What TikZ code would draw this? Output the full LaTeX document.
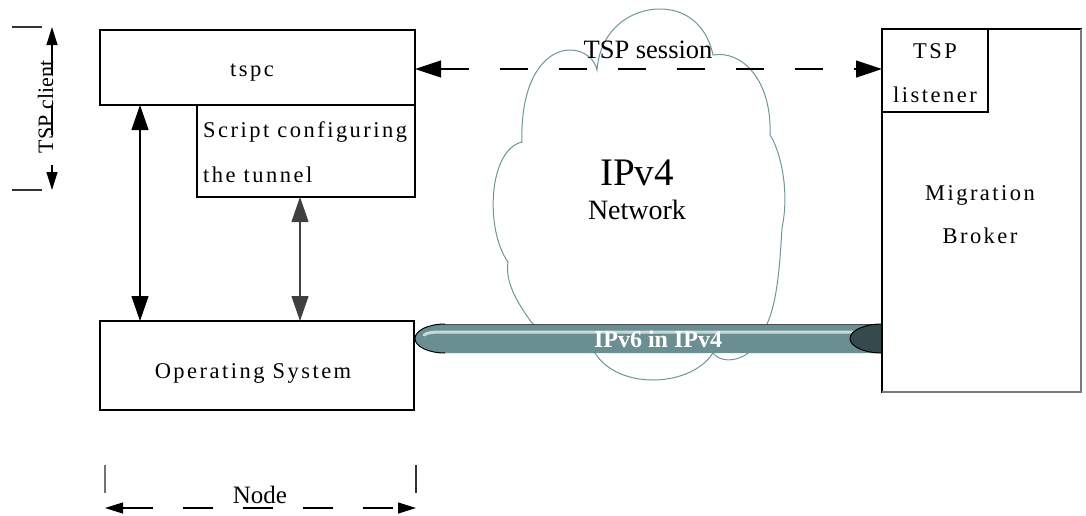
\documentclass[tikz,border=0pt]{standalone}
\usepackage{fontspec}
\setmainfont{Liberation Serif}
\usetikzlibrary{arrows.meta,calc}

\definecolor{cloudline}{HTML}{6E9599}
\definecolor{tubefill}{HTML}{6A8F92}
\definecolor{tubehi}{HTML}{C8D9D9}
\definecolor{tubeend}{HTML}{364A4D}
\definecolor{edgegray}{HTML}{7A7A7A}

\newcommand\boxfont{\fontsize{22.5}{27}\selectfont\addfontfeatures{LetterSpace=11}}
\newcommand\labelfont{\fontsize{25}{30}\selectfont}

\begin{document}
\begin{tikzpicture}[x=1pt,y=-1pt,
  box/.style={draw=black, line width=1.2pt, fill=white, inner sep=0pt, outer sep=0pt},
  txt/.style={inner sep=0pt, font=\boxfont},
  lbl/.style={inner sep=0pt, font=\labelfont},
  duplex/.style={{Triangle[length=25pt,width=17pt]}-{Triangle[length=25pt,width=17pt]}, line width=1.2pt},
  dimline/.style={{Triangle[length=18pt,width=11pt]}-{Triangle[length=18pt,width=11pt]}, line width=1.2pt, dash pattern=on 30pt off 30pt},
  sessline/.style={{Triangle[length=26pt,width=17pt]}-{Triangle[length=26pt,width=17pt]}, line width=1.2pt, dash pattern=on 28pt off 31pt},
  extline/.style={line width=1.2pt, draw=black!80},
]
\useasboundingbox (0,0) rectangle (1086,515);

% ---------- IPv4 cloud ----------
\draw[cloudline, line width=1pt]
  (522,142) .. controls (520,80) and (545,50) .. (570,50)
            .. controls (585,50) and (595,60) .. (597,70)
            .. controls (600,30) and (630,9) .. (660,9)
            .. controls (690,9) and (708,30) .. (713,55)
            .. controls (742,50) and (772,80) .. (770,135)
            .. controls (780,150) and (790,190) .. (782,228)
            .. controls (780,260) and (778,300) .. (767,324)
            .. controls (762,335) and (755,348) .. (747,354)
            .. controls (735,362) and (720,362) .. (713,353)
            .. controls (690,388) and (618,390) .. (595,353)
            .. controls (570,345) and (545,335) .. (532,323)
            .. controls (515,300) and (505,280) .. (508,262)
            .. controls (485,230) and (488,150) .. cycle;
\node[inner sep=0pt, font=\fontsize{39}{45}\selectfont, anchor=base] (ipv4) at (637,185) {IPv4};
\node[inner sep=0pt, font=\fontsize{28}{34}\selectfont, anchor=base] (network) at (637,219) {Network};

% ---------- IPv6-in-IPv4 tunnel ----------
\fill[tubefill] (445,324) -- (882,324) -- (882,353) -- (445,353)
  .. controls (428.4,353) and (415,346.5) .. (415,338.5)
  .. controls (415,330.5) and (428.4,324) .. cycle;
\draw[black!70, line width=1pt] (445,324) -- (880,324);
\draw[black, line width=1pt] (445,353)
  .. controls (428.4,353) and (415,346.5) .. (415,338.5)
  .. controls (415,330.5) and (428.4,324) .. (445,324);
\draw[tubehi, line width=3pt, line cap=round] (424,335) .. controls (428,332) and (435,332) .. (445,332) -- (862,332);
\draw[black, fill=tubeend, line width=1pt] (882,338.5) ellipse [x radius=32pt, y radius=14.5pt];
\node[inner sep=0pt, text=white, font=\fontsize{24}{28}\selectfont\bfseries, anchor=base] (tunnel) at (658,347) {IPv6 in IPv4};

% ---------- client side ----------
\node[box, minimum width=315pt, minimum height=75pt] (tspc) at (257.5,67.5) {};
\node[txt, anchor=base] (tspctext) at (252,76) {tspc};
\node[box, minimum width=218pt, minimum height=92pt] (script) at (306,151) {};
\node[txt, anchor=base west] (scriptA) at (203,137) {Script configuring};
\node[txt, anchor=base west] (scriptB) at (203,182) {the tunnel};
\node[box, minimum width=314pt, minimum height=89pt] (os) at (257,365.5) {};
\node[txt, anchor=base] (ostext) at (253,378) {Operating System};

% ---------- broker side ----------
\node[box, minimum width=199pt, minimum height=363pt] (broker) at (981.5,210.5) {};
\draw[edgegray, line width=1.6pt] (broker.north east) -- (broker.south east) -- (broker.south west);
\node[box, minimum width=106pt, minimum height=83pt] (listener) at (935,70.5) {};
\node[txt, anchor=base] (lsnA) at (935,58) {TSP};
\node[txt, anchor=base] (lsnB) at (935,102) {listener};
\node[txt, anchor=base] (brkA) at (980,200) {Migration};
\node[txt, anchor=base] (brkB) at (980,243) {Broker};

% ---------- connectors ----------
\draw[duplex] ([xshift=40pt]tspc.south west) -- ([xshift=40pt]os.north west);
\draw[duplex, draw=black!75] ([xshift=103pt]script.south west) -- ([xshift=200pt]os.north west);
\coordinate (sessL) at ([yshift=-1.5pt]tspc.east);
\draw[sessline] (sessL) -- (sessL -| listener.west);
\node[lbl, anchor=base, font=\fontsize{26.5}{30}\selectfont] (session) at (648,58) {TSP session};

% ---------- "TSP client" extent ----------
\coordinate (ctop) at (52,27);
\coordinate (cbot) at (52,190);
\draw[extline] (12,27) -- (42,27);
\draw[extline] (12,190) -- (42,190);
\draw[dimline] (ctop) -- (cbot);
\node[inner sep=0pt, font=\fontsize{22}{26}\selectfont, rotate=90, anchor=base] (client) at (53,107) {TSP client};

% ---------- "Node" extent ----------
\coordinate (nleft) at (105,508);
\coordinate (nright) at (416,508);
\draw[extline, draw=black!55] (105,465) -- (105,493);
\draw[extline] (416,465) -- (416,493);
\draw[dimline] (nleft) -- (nright);
\node[lbl, anchor=base] (nodelbl) at (260,503) {Node};
\end{tikzpicture}
\end{document}
